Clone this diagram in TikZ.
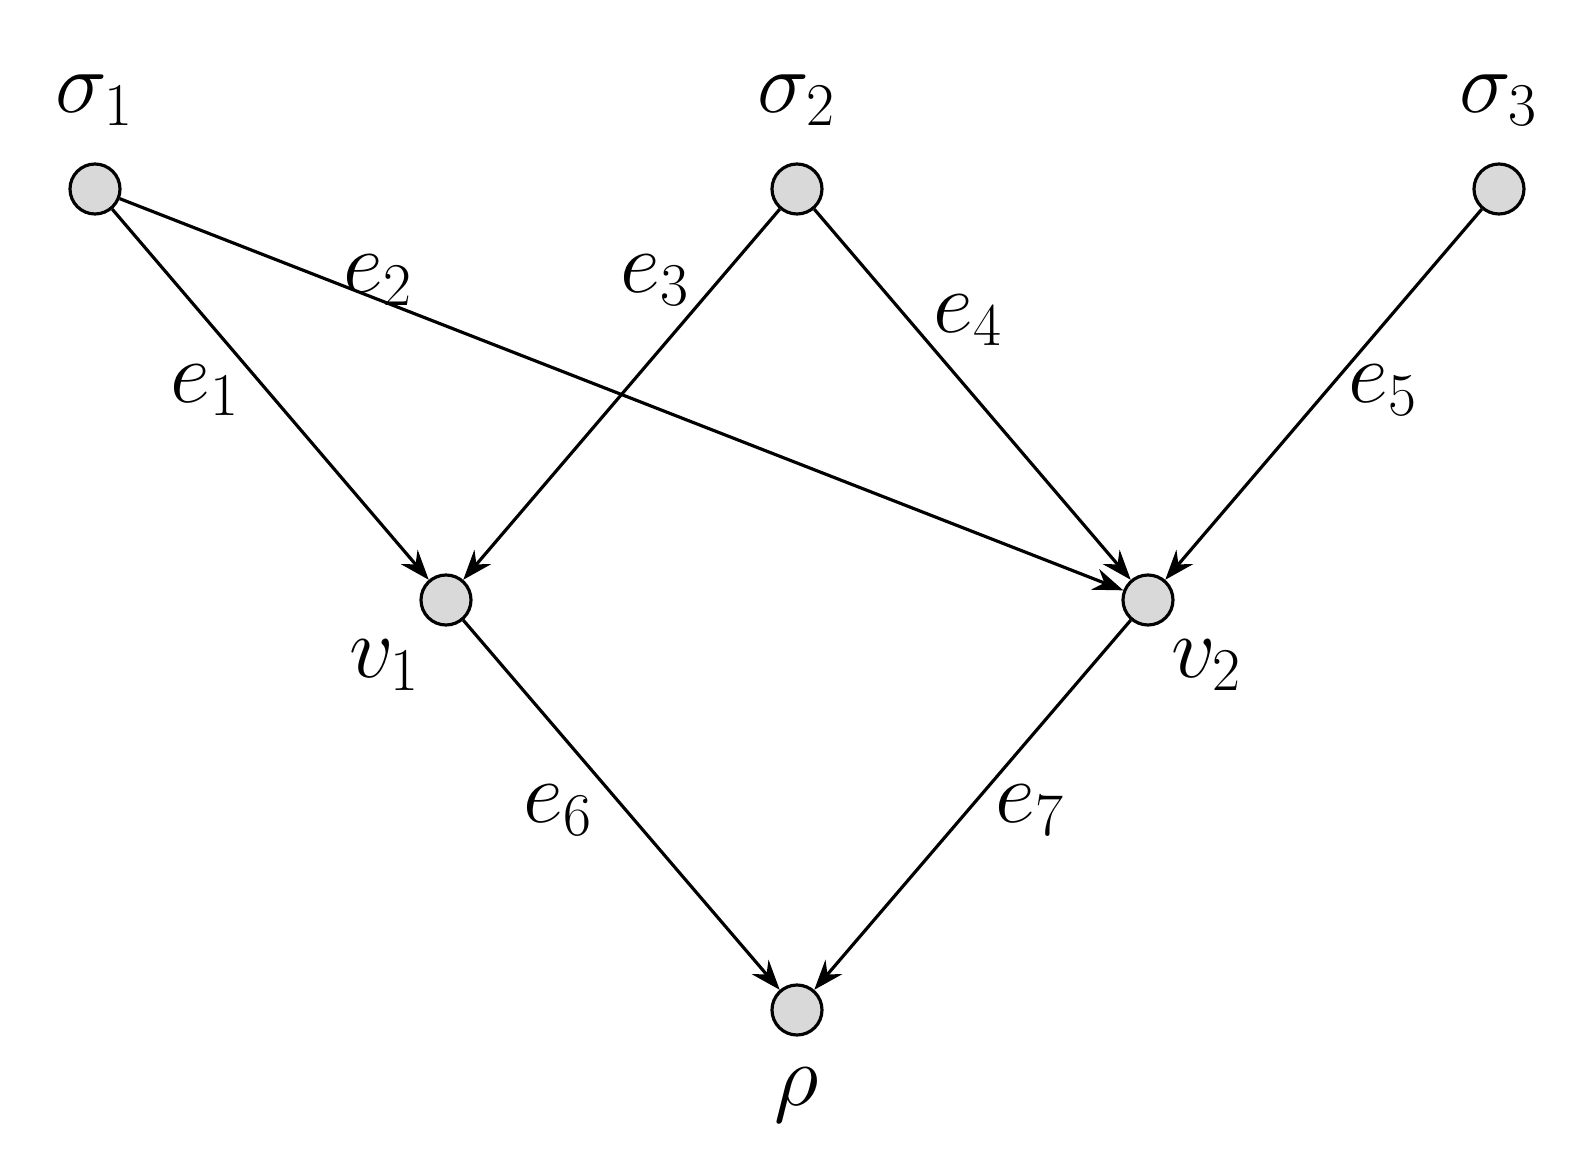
\documentclass[tikz,border=0pt]{standalone}
\usetikzlibrary{arrows.meta}
\begin{document}
\begin{tikzpicture}[
  vtx/.style={circle,draw,line width=0.9pt,fill=gray!30,minimum size=0.5cm,inner sep=0pt},
  lbl/.style={font=\fontsize{24}{28}\selectfont},
  edge/.style={line width=0.9pt,-{Stealth[length=0.3cm,width=0.22cm]}}]
\useasboundingbox (0,0) rectangle (15.81,11.54);
\node[vtx] (s1) at (0.95,9.65) {};
\node[vtx] (s2) at (7.97,9.65) {};
\node[vtx] (s3) at (14.99,9.65) {};
\node[vtx] (v1) at (4.46,5.54) {};
\node[vtx] (v2) at (11.48,5.54) {};
\node[vtx] (r) at (7.97,1.44) {};
\node[lbl] (ls1) at (0.95,10.54) {$\sigma_1$};
\node[lbl] (ls2) at (7.97,10.54) {$\sigma_2$};
\node[lbl] (ls3) at (14.99,10.54) {$\sigma_3$};
\node[lbl] (lv1) at (3.85,4.89) {$v_1$};
\node[lbl] (lv2) at (12.07,4.89) {$v_2$};
\node[lbl] (lr) at (7.97,0.59) {$\rho$};
\draw[edge] (s1) -- (v1);
\draw[edge] (s1) -- (v2);
\draw[edge] (s2) -- (v1);
\draw[edge] (s2) -- (v2);
\draw[edge] (s3) -- (v2);
\draw[edge] (v1) -- (r);
\draw[edge] (v2) -- (r);
\node[lbl] (e1) at (2.05,7.64) {$e_1$};
\node[lbl] (e2) at (3.78,8.74) {$e_2$};
\node[lbl] (e3) at (6.55,8.74) {$e_3$};
\node[lbl] (e4) at (9.68,8.34) {$e_4$};
\node[lbl] (e5) at (13.83,7.64) {$e_5$};
\node[lbl] (e6) at (5.58,3.44) {$e_6$};
\node[lbl] (e7) at (10.30,3.44) {$e_7$};
\end{tikzpicture}
\end{document}
